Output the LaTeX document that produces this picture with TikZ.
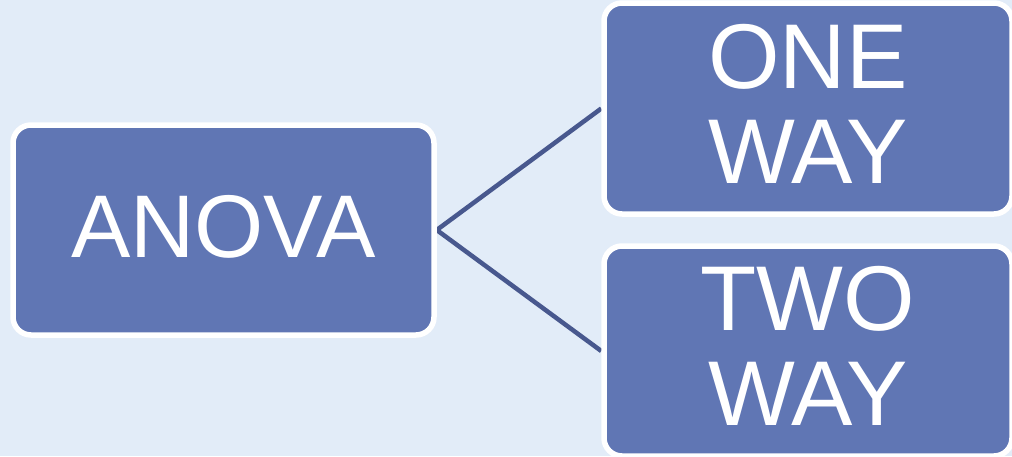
\documentclass[tikz,border=0pt]{standalone}
\usepackage{fontspec}
\setmainfont{Liberation Sans}
\usetikzlibrary{backgrounds}
\definecolor{pagebg}{RGB}{226,236,248}
\definecolor{boxfill}{RGB}{96,118,180}
\definecolor{linkcol}{RGB}{72,88,142}
\pgfdeclarelayer{edges}
\pgfsetlayers{background,edges,main}
\tikzset{
  catbox/.style={draw=white, line width=5.5pt, fill=boxfill, rounded corners=18pt,
    text=white, inner sep=0pt, align=center},
  link/.style={draw=linkcol, line width=4.5pt}
}
\begin{document}
\begin{tikzpicture}[x=1pt, y=-1pt]
  \begin{pgfonlayer}{background}
    \fill[pagebg] (0,0) rectangle (1012,456);
  \end{pgfonlayer}
  \useasboundingbox (0,0) rectangle (1012,456);
  \clip (0,0) rectangle (1012,456);
  % root box
  \node[catbox, minimum width=421pt, minimum height=210pt,
        font=\fontsize{89}{94}\selectfont, text height=64pt, text depth=10pt]
        (anova) at (223.5,230) {ANOVA};
  % branch boxes
  \node[catbox, minimum width=408pt, minimum height=211pt,
        font=\fontsize{92}{95}\selectfont, text depth=10pt]
        (oneway) at (808,108.5) {ONE\\WAY};
  \node[catbox, minimum width=408pt, minimum height=210pt,
        font=\fontsize{92}{95}\selectfont, text depth=10pt]
        (twoway) at (808,351) {TWO\\WAY};
  % connectors
  \begin{pgfonlayer}{edges}
    \draw[link] (anova.east) -- (oneway.west);
    \draw[link] (anova.east) -- (twoway.west);
  \end{pgfonlayer}
\end{tikzpicture}
\end{document}
